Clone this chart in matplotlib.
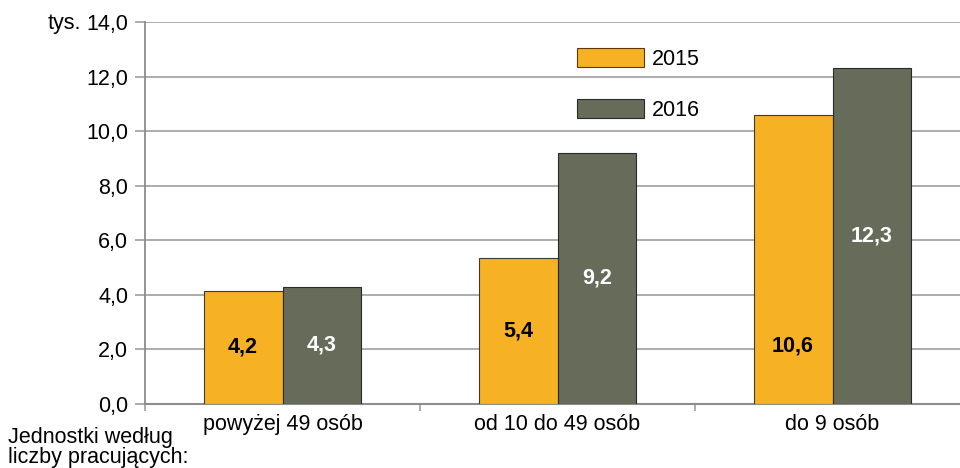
import matplotlib
matplotlib.use("Agg")
import matplotlib.pyplot as plt
from matplotlib.patches import Patch
import numpy as np

plt.rcParams['font.family'] = ['Liberation Sans', 'DejaVu Sans']

categories = ["powyżej 49 osób", "od 10 do 49 osób", "do 9 osób"]
series_names = ["2015", "2016"]
values_2015 = [4.15, 5.35, 10.6]
values_2016 = [4.3, 9.2, 12.3]
labels_2015 = ["4,2", "5,4", "10,6"]
labels_2016 = ["4,3", "9,2", "12,3"]
label_pos_2015 = [0.5, 0.5, 0.2]
label_pos_2016 = [0.5, 0.5, 0.5]
yticks = [0, 2, 4, 6, 8, 10, 12, 14]
yticklabels = ["0,0", "2,0", "4,0", "6,0", "8,0", "10,0", "12,0", "14,0"]

c2015 = "#F6B224"
c2016 = "#676B59"
grid_c = "#A6A6A6"
fs = 15.5

fig = plt.figure(figsize=(9.6, 4.68), dpi=100)
W, H = 960, 468
left, right, top, bottom = 145, 970, 22, 404
ax = fig.add_axes([left / W, 1 - bottom / H, (right - left) / W, (bottom - top) / H])

x = np.arange(len(categories))
bw = 0.287
ax.bar(x - bw / 2, values_2015, bw, color=c2015, edgecolor="#3a3a3a", linewidth=0.8, zorder=3)
ax.bar(x + bw / 2, values_2016, bw, color=c2016, edgecolor="#2a2a2a", linewidth=0.8, zorder=3)

for i in range(len(categories)):
    ax.text(x[i] - bw / 2, values_2015[i] * label_pos_2015[i], labels_2015[i], ha="center", va="center",
            fontsize=fs, fontweight="bold", color="black", zorder=4)
    ax.text(x[i] + bw / 2, values_2016[i] * label_pos_2016[i], labels_2016[i], ha="center", va="center",
            fontsize=fs, fontweight="bold", color="white", zorder=4)

ax.set_xlim(-0.5, len(categories) - 0.5)
ax.set_ylim(0, 14)
ax.set_yticks(yticks)
ax.set_yticklabels(yticklabels, fontsize=fs)
ax.yaxis.grid(True, color=grid_c, linewidth=1.3, zorder=0)
ax.set_axisbelow(True)

ax.set_xticks(x)
ax.set_xticklabels(categories, fontsize=fs)
ax.set_xticks(np.arange(len(categories) + 1) - 0.5, minor=True)
ax.tick_params(axis="x", which="major", length=0, pad=7)
ax.tick_params(axis="x", which="minor", length=5, color=grid_c, width=1.3, direction="out")
ax.tick_params(axis="y", length=7, color=grid_c, width=1.3, pad=5)

for s in ["top", "right"]:
    ax.spines[s].set_visible(False)
ax.spines["left"].set_color("#8c8c8c")
ax.spines["left"].set_linewidth(1.3)
ax.spines["bottom"].set_color("#8c8c8c")
ax.spines["bottom"].set_linewidth(1.5)

fig.text(81 / W, 1 - 23 / H, "tys.", fontsize=fs, ha="right", va="center")
fig.text(8 / W, 1 - 438 / H, "Jednostki według", fontsize=fs, ha="left", va="center")
fig.text(8 / W, 1 - 458 / H, "liczby pracujących:", fontsize=fs, ha="left", va="center")

handles = [Patch(facecolor=c2015, edgecolor="#5a3a00", linewidth=0.8),
           Patch(facecolor=c2016, edgecolor="#2a2a2a", linewidth=0.8)]
fig.legend(handles, series_names, loc="upper left", bbox_to_anchor=(577 / W, 1 - 48 / H),
           frameon=False, fontsize=fs, borderpad=0, handlelength=3.1, handleheight=1.0,
           handletextpad=0.4, labelspacing=1.35, borderaxespad=0)

fig.savefig("out.png", dpi=100)
